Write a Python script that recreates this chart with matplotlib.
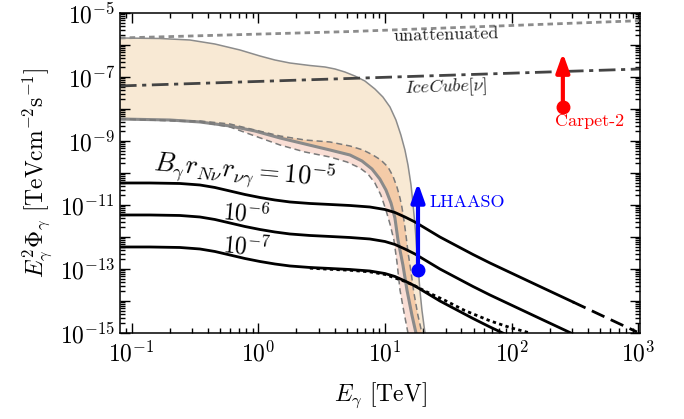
import numpy as np
import matplotlib
matplotlib.use("Agg")
import matplotlib.pyplot as plt
from matplotlib.ticker import LogLocator, NullFormatter

plt.rcParams['font.family'] = 'serif'
plt.rcParams['font.serif'] = ['cmr10', 'DejaVu Serif']
plt.rcParams['mathtext.fontset'] = 'cm'
plt.rcParams['axes.unicode_minus'] = False

# ---------------- data (stored as log10 values) ----------------
# unattenuated spectrum
logE_unatt = [-1.092, 0.723, 3.012]
logF_unatt = [-5.781, -5.58, -5.24]

# IceCube neutrino flux
logE_ice = [-1.092, 3.012]
logF_ice = [-7.28, -6.75]

# attenuated band: upper edge (thin gray)
logE_upper = [-1.092, -0.777, -0.540, -0.343, -0.145, 0.013, 0.131, 0.249, 0.407, 0.526, 0.605, 0.683, 0.762,
              0.841, 0.920, 0.983, 1.039, 1.086, 1.125, 1.157, 1.181, 1.205, 1.220, 1.236, 1.251, 1.275, 1.291, 1.315]
logF_upper = [-5.781, -5.797, -5.844, -5.969, -6.156, -6.344, -6.469, -6.5625, -6.641, -6.6875, -6.75, -6.844, -6.969,
              -7.125, -7.375, -7.625, -7.9375, -8.344, -8.8125, -9.281, -9.75, -10.375, -10.9375, -11.625, -12.406,
              -13.656, -14.281, -15.0]

# central curve (thick gray)
logE_center = [-1.092, -0.698, -0.461, -0.224, -0.027, 0.171, 0.368, 0.565, 0.723, 0.818, 0.897, 0.959, 1.007,
               1.047, 1.078, 1.102, 1.141, 1.173, 1.212, 1.244]
logF_center = [-8.3125, -8.344, -8.406, -8.531, -8.6875, -8.906, -9.094, -9.281, -9.4375, -9.625, -9.875, -10.1875,
               -10.531, -10.9375, -11.406, -12.094, -12.875, -13.656, -14.4375, -15.0]

# dashed uncertainty curves
logE_dash_hi = [-1.092, -0.461, -0.224, -0.027, 0.171, 0.368, 0.565, 0.723, 0.826, 0.904, 0.967, 1.023, 1.062,
                1.094, 1.118, 1.133, 1.149, 1.165, 1.181, 1.205, 1.228, 1.259, 1.291]
logF_dash_hi = [-8.3125, -8.375, -8.469, -8.656, -8.844, -8.969, -9.031, -9.156, -9.281, -9.4375, -9.594, -9.8125,
                -10.094, -10.4375, -10.781, -11.0625, -11.469, -11.9375, -12.469, -13.094, -13.75, -14.4375, -15.0]
logE_dash_lo = [-1.092, -0.461, -0.224, -0.027, 0.171, 0.368, 0.565, 0.699, 0.802, 0.865, 0.920, 0.967, 1.007,
                1.039, 1.070, 1.094, 1.118, 1.149, 1.181]
logF_dash_lo = [-8.3125, -8.406, -8.5625, -8.844, -9.125, -9.344, -9.5, -9.656, -9.844, -10.031, -10.3125, -10.6875,
                -11.156, -11.594, -12.094, -12.781, -13.656, -14.344, -15.0]

# black curves for B r r = 1e-5, 1e-6, 1e-7
logE_b = [-1.092, -0.856, -0.619, -0.461, -0.343, -0.224, -0.106, 0.013, 0.131, 0.249, 0.407, 0.565, 0.723, 0.880,
          0.999, 1.078, 1.157, 1.236, 1.315, 1.433, 1.567, 1.694, 1.828, 1.962, 2.222, 2.483, 2.735, 2.988]
logF_b5 = [-10.3125, -10.3125, -10.328, -10.375, -10.453, -10.5625, -10.672, -10.766, -10.844, -10.906, -10.953,
           -10.984, -11.016, -11.0625, -11.141, -11.234, -11.375, -11.531, -11.719, -12.0, -12.281, -12.547, -12.8125,
           -13.0625, -13.547, -14.031, -14.5, -14.969]
logF_b6 = [-11.3125, -11.3125, -11.328, -11.375, -11.453, -11.5625, -11.672, -11.766, -11.844, -11.906, -11.953,
           -11.984, -12.016, -12.0625, -12.141, -12.234, -12.375, -12.531, -12.719, -13.0, -13.281, -13.547, -13.8125,
           -14.0625, -14.547, -15.031]
logF_b7 = [-12.3125, -12.3125, -12.328, -12.375, -12.453, -12.5625, -12.672, -12.766, -12.844, -12.906, -12.953,
           -12.984, -13.016, -13.0625, -13.141, -13.234, -13.375, -13.531, -13.719, -14.0, -14.281, -14.547, -14.8125,
           -15.0625]
logE_b5_dashed_from = 2.483

# dotted variant of the lowest curve
logE_dot = [0.407, 0.565, 0.723, 0.880, 0.999, 1.157, 1.236, 1.315, 1.472, 1.630, 1.828, 1.986, 2.144]
logF_dot = [-12.975, -13.01, -13.04, -13.09, -13.17, -13.39, -13.53, -13.69, -13.98, -14.3, -14.62, -14.83, -15.0]

# lower limits (E in TeV, flux in TeV cm^-2 s^-1)
E_lhaaso, F_lhaaso_pt, F_lhaaso_tip = 18.2, 9.3e-14, 4.9e-11
E_carpet, F_carpet_pt, F_carpet_tip = 253, 1.15e-8, 5.6e-7

xticks = [1e-1, 1e0, 1e1, 1e2, 1e3]
xticklabels = [r'$10^{-1}$', r'$10^{0}$', r'$10^{1}$', r'$10^{2}$', r'$10^{3}$']
ytick_exps = list(range(-15, -4))
yticklabels = [r'$10^{%d}$' % e if (e % 2 != 0) else '' for e in ytick_exps]


def p(v):
    return 10.0 ** np.asarray(v, dtype=float)


# ---------------- figure ----------------
fig = plt.figure(figsize=(6.84, 4.19), dpi=100)
ax = fig.add_axes([0.1754, 0.2053, 0.7603, 0.7637])
ax.set_xscale('log')
ax.set_yscale('log')
ax.set_xlim(0.081, 1028)
ax.set_ylim(1e-15, 1e-5)

tan = '#f8e9d4'
orange = '#f4cba8'
pink = '#f9ded5'

ax.fill(p(logE_upper + logE_center[::-1]), p(logF_upper + logF_center[::-1]),
        color=tan, lw=0, zorder=1)
ax.fill(p(logE_dash_hi + logE_center[::-1]), p(logF_dash_hi + logF_center[::-1]),
        color=orange, lw=0, zorder=1.1)
ax.fill(p(logE_center + logE_dash_lo[::-1]), p(logF_center + logF_dash_lo[::-1]),
        color=pink, lw=0, zorder=1.1)

ax.plot(p(logE_upper), p(logF_upper), color='#8c8c8c', lw=1.1, zorder=2)
ax.plot(p(logE_center), p(logF_center), color='#8a8a8a', lw=2.2, zorder=2)
ax.plot(p(logE_dash_hi), p(logF_dash_hi), color='#7a7a7a', lw=1.1, ls=(0, (4, 2.5)), zorder=2)
ax.plot(p(logE_dash_lo), p(logF_dash_lo), color='#7a7a7a', lw=1.1, ls=(0, (4, 2.5)), zorder=2)

ax.plot(p(logE_unatt), p(logF_unatt), color='#8c8c8c', lw=2, ls=(0, (2, 1.5)), zorder=2)
ax.plot(p(logE_ice), p(logF_ice), color='#444444', lw=2, ls=(0, (6, 2, 1.5, 2)), zorder=2)

lE = np.array(logE_b)
lF5 = np.array(logF_b5)
solid = lE <= logE_b5_dashed_from
dashed = lE >= logE_b5_dashed_from
ax.plot(p(lE[solid]), p(lF5[solid]), color='black', lw=2, zorder=3)
ax.plot(p(lE[dashed]), p(lF5[dashed]), color='black', lw=2, ls=(0, (5, 2.5)), zorder=3)
ax.plot(p(lE[:len(logF_b6)]), p(logF_b6), color='black', lw=2, zorder=3)
ax.plot(p(lE[:len(logF_b7)]), p(logF_b7), color='black', lw=2, zorder=3)
ax.plot(p(logE_dot), p(logF_dot), color='black', lw=2, ls=(0, (1.2, 1.2)), zorder=3)

# lower-limit arrows
for E, Fp, Ft, col in [(E_lhaaso, F_lhaaso_pt, F_lhaaso_tip, 'blue'),
                       (E_carpet, F_carpet_pt, F_carpet_tip, 'red')]:
    ax.annotate('', xy=(E, Ft), xytext=(E, Fp),
                arrowprops=dict(arrowstyle='-|>,head_length=0.7,head_width=0.25',
                                color=col, lw=3, mutation_scale=16,
                                shrinkA=0, shrinkB=0), zorder=4)
    ax.plot([E], [Fp], 'o', color=col, ms=9, zorder=5)

ax.text(22.6, 1.23e-11, 'LHAASO', color='blue', fontsize=13, ha='left', va='center')
ax.text(414, 4.2e-9, 'Carpet-2', color='red', fontsize=13, ha='center', va='center')
ax.text(30.3, 2.05e-6, 'unattenuated', color='#222222', fontsize=13, ha='center', va='center', rotation=1.5)
ax.text(30.3, 4.6e-8, r'$IceCube[\nu]$', color='#222222', fontsize=13, ha='center', va='center', rotation=2)
ax.text(0.785, 1.07e-10, r'$B_\gamma r_{N\nu} r_{\nu\gamma} = 10^{-5}$', fontsize=19,
        ha='center', va='center', rotation=-5)
ax.text(0.81, 5.2e-12, r'$10^{-6}$', fontsize=17, ha='center', va='center', rotation=-5)
ax.text(0.81, 4.9e-13, r'$10^{-7}$', fontsize=17, ha='center', va='center', rotation=-5)

ax.set_xticks(xticks)
ax.set_xticklabels(xticklabels)
ax.set_yticks([10.0 ** e for e in ytick_exps])
ax.set_yticklabels(yticklabels)
ax.xaxis.set_minor_locator(LogLocator(base=10, subs=np.arange(2, 10), numticks=100))
ax.yaxis.set_minor_locator(LogLocator(base=10, subs=np.arange(2, 10), numticks=100))
ax.xaxis.set_minor_formatter(NullFormatter())
ax.yaxis.set_minor_formatter(NullFormatter())
ax.tick_params(which='both', direction='in', top=True, right=True, labelsize=17, width=1)
ax.tick_params(axis='x', which='major', pad=6)
ax.tick_params(which='major', length=7)
ax.tick_params(which='minor', length=3.5)
for s in ax.spines.values():
    s.set_linewidth(1.1)

ax.set_xlabel(r'$E_\gamma$ [TeV]', fontsize=17, labelpad=10)
ax.set_ylabel(r'$E_\gamma^2\Phi_\gamma$ [TeVcm$^{-2}$s$^{-1}$]', fontsize=17, labelpad=4)

fig.savefig('out.png', dpi=100)
